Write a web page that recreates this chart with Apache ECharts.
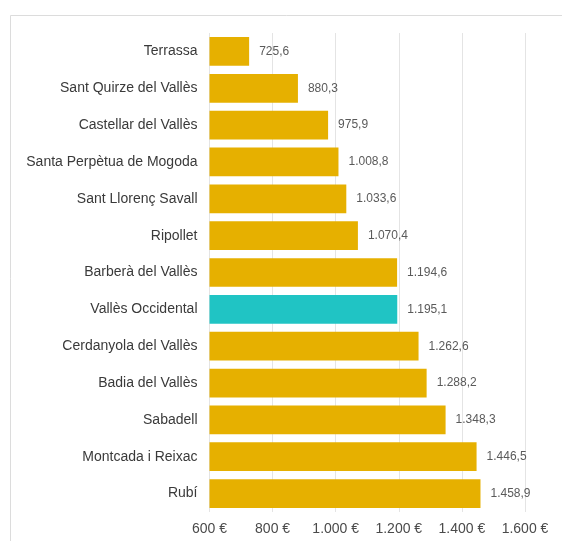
<!DOCTYPE html>
<html><head><meta charset="utf-8">
<script src="https://cdn.jsdelivr.net/npm/echarts@6/dist/echarts.min.js"></script>
<style>html,body{margin:0;padding:0;background:#fff}#c{width:562px;height:541px}</style>
</head><body><div id="c"></div>
<script>
const categories = ["Terrassa","Sant Quirze del Vallès","Castellar del Vallès","Santa Perpètua de Mogoda","Sant Llorenç Savall","Ripollet","Barberà del Vallès","Vallès Occidental","Cerdanyola del Vallès","Badia del Vallès","Sabadell","Montcada i Reixac","Rubí"];
const values = [725.6,880.3,975.9,1008.8,1033.6,1070.4,1194.6,1195.1,1262.6,1288.2,1348.3,1446.5,1458.9];
const highlight = "Vallès Occidental";
const axisMin = 600, axisMax = 1600, axisStep = 200;

function fmt(v, dec){
  const s = v.toFixed(dec);
  let [i, d] = s.split('.');
  i = i.replace(/\B(?=(\d{3})+(?!\d))/g, '.');
  return d ? i + ',' + d : i;
}
const chart = echarts.init(document.getElementById('c'), null, {renderer:'canvas'});
chart.setOption({
  backgroundColor:'#fff',
  animation:false,
  textStyle:{fontFamily:'Liberation Sans, Arial, sans-serif'},
  graphic:[{type:'rect',shape:{x:10.5,y:15.5,width:700,height:700},style:{fill:'none',stroke:'#dcdcdc',lineWidth:1},silent:true}],
  grid:{left:209.5,right:37,top:33,bottom:29,containLabel:false},
  xAxis:{type:'value',min:axisMin,max:axisMax,interval:axisStep,
    axisLine:{show:false},axisTick:{show:false},
    splitLine:{show:true,lineStyle:{color:'#e4e4e4',width:1}},
    axisLabel:{color:'#4a4a4a',fontSize:14,margin:10,formatter:v=>fmt(v,0)+' €'}},
  yAxis:{type:'category',data:categories,inverse:true,
    axisLine:{show:false},axisTick:{show:false},
    axisLabel:{color:'#3a3a3a',fontSize:14,margin:12}},
  series:[{type:'bar',barCategoryGap:'22%',
    data:values.map((v,i)=>({value:v,itemStyle:{color:categories[i]===highlight?'#20C4C4':'#E6B000'}})),
    label:{show:true,position:'right',distance:10,color:'#5a5a5a',fontSize:12,formatter:p=>fmt(p.value,1)}}]
});
</script></body></html>
